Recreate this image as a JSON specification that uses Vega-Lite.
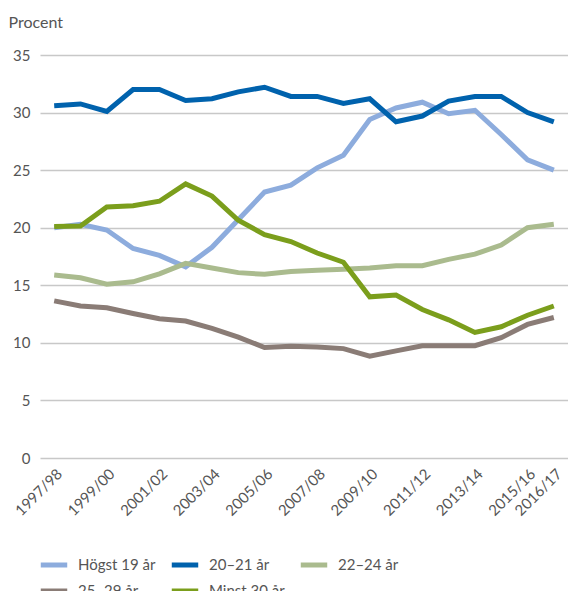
{
  "$schema": "https://vega.github.io/schema/vega-lite/v6.json",
  "width": 528,
  "height": 403,
  "autosize": {"type": "none"},
  "padding": {"left": 40, "top": 55, "right": 0, "bottom": 133},
  "background": "white",
  "config": {
    "view": {"stroke": null},
    "font": "Lato",
    "text": {"font": "Lato"}
  },
  "datasets": {
    "d": [
      {"season": "1997/98", "group": "Högst 19 år", "value": 20.0},
      {"season": "1998/99", "group": "Högst 19 år", "value": 20.3},
      {"season": "1999/00", "group": "Högst 19 år", "value": 19.8},
      {"season": "2000/01", "group": "Högst 19 år", "value": 18.2},
      {"season": "2001/02", "group": "Högst 19 år", "value": 17.6},
      {"season": "2002/03", "group": "Högst 19 år", "value": 16.6},
      {"season": "2003/04", "group": "Högst 19 år", "value": 18.3},
      {"season": "2004/05", "group": "Högst 19 år", "value": 20.7},
      {"season": "2005/06", "group": "Högst 19 år", "value": 23.1},
      {"season": "2006/07", "group": "Högst 19 år", "value": 23.7},
      {"season": "2007/08", "group": "Högst 19 år", "value": 25.2},
      {"season": "2008/09", "group": "Högst 19 år", "value": 26.3},
      {"season": "2009/10", "group": "Högst 19 år", "value": 29.4},
      {"season": "2010/11", "group": "Högst 19 år", "value": 30.4},
      {"season": "2011/12", "group": "Högst 19 år", "value": 30.9},
      {"season": "2012/13", "group": "Högst 19 år", "value": 29.9},
      {"season": "2013/14", "group": "Högst 19 år", "value": 30.2},
      {"season": "2014/15", "group": "Högst 19 år", "value": 28.1},
      {"season": "2015/16", "group": "Högst 19 år", "value": 25.9},
      {"season": "2016/17", "group": "Högst 19 år", "value": 25.0},

      {"season": "1997/98", "group": "20–21 år", "value": 30.6},
      {"season": "1998/99", "group": "20–21 år", "value": 30.75},
      {"season": "1999/00", "group": "20–21 år", "value": 30.1},
      {"season": "2000/01", "group": "20–21 år", "value": 32.0},
      {"season": "2001/02", "group": "20–21 år", "value": 32.0},
      {"season": "2002/03", "group": "20–21 år", "value": 31.05},
      {"season": "2003/04", "group": "20–21 år", "value": 31.2},
      {"season": "2004/05", "group": "20–21 år", "value": 31.8},
      {"season": "2005/06", "group": "20–21 år", "value": 32.2},
      {"season": "2006/07", "group": "20–21 år", "value": 31.4},
      {"season": "2007/08", "group": "20–21 år", "value": 31.4},
      {"season": "2008/09", "group": "20–21 år", "value": 30.8},
      {"season": "2009/10", "group": "20–21 år", "value": 31.2},
      {"season": "2010/11", "group": "20–21 år", "value": 29.2},
      {"season": "2011/12", "group": "20–21 år", "value": 29.7},
      {"season": "2012/13", "group": "20–21 år", "value": 31.0},
      {"season": "2013/14", "group": "20–21 år", "value": 31.4},
      {"season": "2014/15", "group": "20–21 år", "value": 31.4},
      {"season": "2015/16", "group": "20–21 år", "value": 30.0},
      {"season": "2016/17", "group": "20–21 år", "value": 29.2},

      {"season": "1997/98", "group": "22–24 år", "value": 15.9},
      {"season": "1998/99", "group": "22–24 år", "value": 15.65},
      {"season": "1999/00", "group": "22–24 år", "value": 15.1},
      {"season": "2000/01", "group": "22–24 år", "value": 15.3},
      {"season": "2001/02", "group": "22–24 år", "value": 16.0},
      {"season": "2002/03", "group": "22–24 år", "value": 16.9},
      {"season": "2003/04", "group": "22–24 år", "value": 16.5},
      {"season": "2004/05", "group": "22–24 år", "value": 16.1},
      {"season": "2005/06", "group": "22–24 år", "value": 15.95},
      {"season": "2006/07", "group": "22–24 år", "value": 16.2},
      {"season": "2007/08", "group": "22–24 år", "value": 16.3},
      {"season": "2008/09", "group": "22–24 år", "value": 16.4},
      {"season": "2009/10", "group": "22–24 år", "value": 16.5},
      {"season": "2010/11", "group": "22–24 år", "value": 16.7},
      {"season": "2011/12", "group": "22–24 år", "value": 16.7},
      {"season": "2012/13", "group": "22–24 år", "value": 17.25},
      {"season": "2013/14", "group": "22–24 år", "value": 17.7},
      {"season": "2014/15", "group": "22–24 år", "value": 18.5},
      {"season": "2015/16", "group": "22–24 år", "value": 20.0},
      {"season": "2016/17", "group": "22–24 år", "value": 20.3},

      {"season": "1997/98", "group": "25–29 år", "value": 13.65},
      {"season": "1998/99", "group": "25–29 år", "value": 13.2},
      {"season": "1999/00", "group": "25–29 år", "value": 13.05},
      {"season": "2000/01", "group": "25–29 år", "value": 12.55},
      {"season": "2001/02", "group": "25–29 år", "value": 12.1},
      {"season": "2002/03", "group": "25–29 år", "value": 11.9},
      {"season": "2003/04", "group": "25–29 år", "value": 11.25},
      {"season": "2004/05", "group": "25–29 år", "value": 10.5},
      {"season": "2005/06", "group": "25–29 år", "value": 9.6},
      {"season": "2006/07", "group": "25–29 år", "value": 9.7},
      {"season": "2007/08", "group": "25–29 år", "value": 9.65},
      {"season": "2008/09", "group": "25–29 år", "value": 9.5},
      {"season": "2009/10", "group": "25–29 år", "value": 8.85},
      {"season": "2010/11", "group": "25–29 år", "value": 9.3},
      {"season": "2011/12", "group": "25–29 år", "value": 9.75},
      {"season": "2012/13", "group": "25–29 år", "value": 9.75},
      {"season": "2013/14", "group": "25–29 år", "value": 9.75},
      {"season": "2014/15", "group": "25–29 år", "value": 10.45},
      {"season": "2015/16", "group": "25–29 år", "value": 11.6},
      {"season": "2016/17", "group": "25–29 år", "value": 12.2},

      {"season": "1997/98", "group": "Minst 30 år", "value": 20.1},
      {"season": "1998/99", "group": "Minst 30 år", "value": 20.15},
      {"season": "1999/00", "group": "Minst 30 år", "value": 21.8},
      {"season": "2000/01", "group": "Minst 30 år", "value": 21.9},
      {"season": "2001/02", "group": "Minst 30 år", "value": 22.3},
      {"season": "2002/03", "group": "Minst 30 år", "value": 23.8},
      {"season": "2003/04", "group": "Minst 30 år", "value": 22.75},
      {"season": "2004/05", "group": "Minst 30 år", "value": 20.65},
      {"season": "2005/06", "group": "Minst 30 år", "value": 19.4},
      {"season": "2006/07", "group": "Minst 30 år", "value": 18.8},
      {"season": "2007/08", "group": "Minst 30 år", "value": 17.8},
      {"season": "2008/09", "group": "Minst 30 år", "value": 17.0},
      {"season": "2009/10", "group": "Minst 30 år", "value": 14.0},
      {"season": "2010/11", "group": "Minst 30 år", "value": 14.15},
      {"season": "2011/12", "group": "Minst 30 år", "value": 12.9},
      {"season": "2012/13", "group": "Minst 30 år", "value": 12.0},
      {"season": "2013/14", "group": "Minst 30 år", "value": 10.9},
      {"season": "2014/15", "group": "Minst 30 år", "value": 11.4},
      {"season": "2015/16", "group": "Minst 30 år", "value": 12.4},
      {"season": "2016/17", "group": "Minst 30 år", "value": 13.2}
    ]
  },
  "data": {"name": "d"},
  "mark": {"type": "line", "strokeWidth": 5, "strokeJoin": "miter", "strokeCap": "butt"},
  "encoding": {
    "x": {
      "field": "season",
      "type": "ordinal",
      "scale": {"type": "point", "padding": 0.54},
      "axis": {
        "title": null,
        "values": ["1997/98", "1999/00", "2001/02", "2003/04", "2005/06", "2007/08", "2009/10", "2011/12", "2013/14", "2015/16", "2016/17"],
        "labelAngle": -45,
        "labelFontSize": 15,
        "labelColor": "#555555",
        "labelFont": "Lato",
        "labelPadding": 8,
        "labelOverlap": false,
        "ticks": false,
        "domain": false,
        "grid": false
      }
    },
    "y": {
      "field": "value",
      "type": "quantitative",
      "scale": {"domain": [0, 35], "nice": false},
      "axis": {
        "values": [0, 5, 10, 15, 20, 25, 30, 35],
        "title": "Procent",
        "titleAngle": 0,
        "titleX": -32,
        "titleY": -28,
        "titleAlign": "left",
        "titleBaseline": "alphabetic",
        "titleFontSize": 16,
        "titleFontWeight": "normal",
        "titleColor": "#555555",
        "titleFont": "Lato",
        "labelFontSize": 15,
        "labelColor": "#555555",
        "labelFont": "Lato",
        "labelPadding": 10,
        "ticks": false,
        "domain": false,
        "grid": true,
        "gridColor": "#c8c8c8",
        "gridWidth": 1.5
      }
    },
    "color": {
      "field": "group",
      "type": "nominal",
      "scale": {
        "domain": ["Högst 19 år", "20–21 år", "22–24 år", "25–29 år", "Minst 30 år"],
        "range": ["#8dacdd", "#0062ad", "#aabb8e", "#8a7c76", "#7b9e1c"]
      },
      "legend": {
        "title": null,
        "orient": "none",
        "legendX": -2,
        "legendY": 494,
        "direction": "horizontal",
        "columns": 3,
        "columnPadding": 5,
        "rowPadding": 0,
        "symbolType": "stroke",
        "symbolStrokeWidth": 5,
        "symbolSize": 700,
        "labelFontSize": 15,
        "labelColor": "#555555",
        "labelFont": "Lato",
        "labelOffset": 8
      }
    }
  }
}
